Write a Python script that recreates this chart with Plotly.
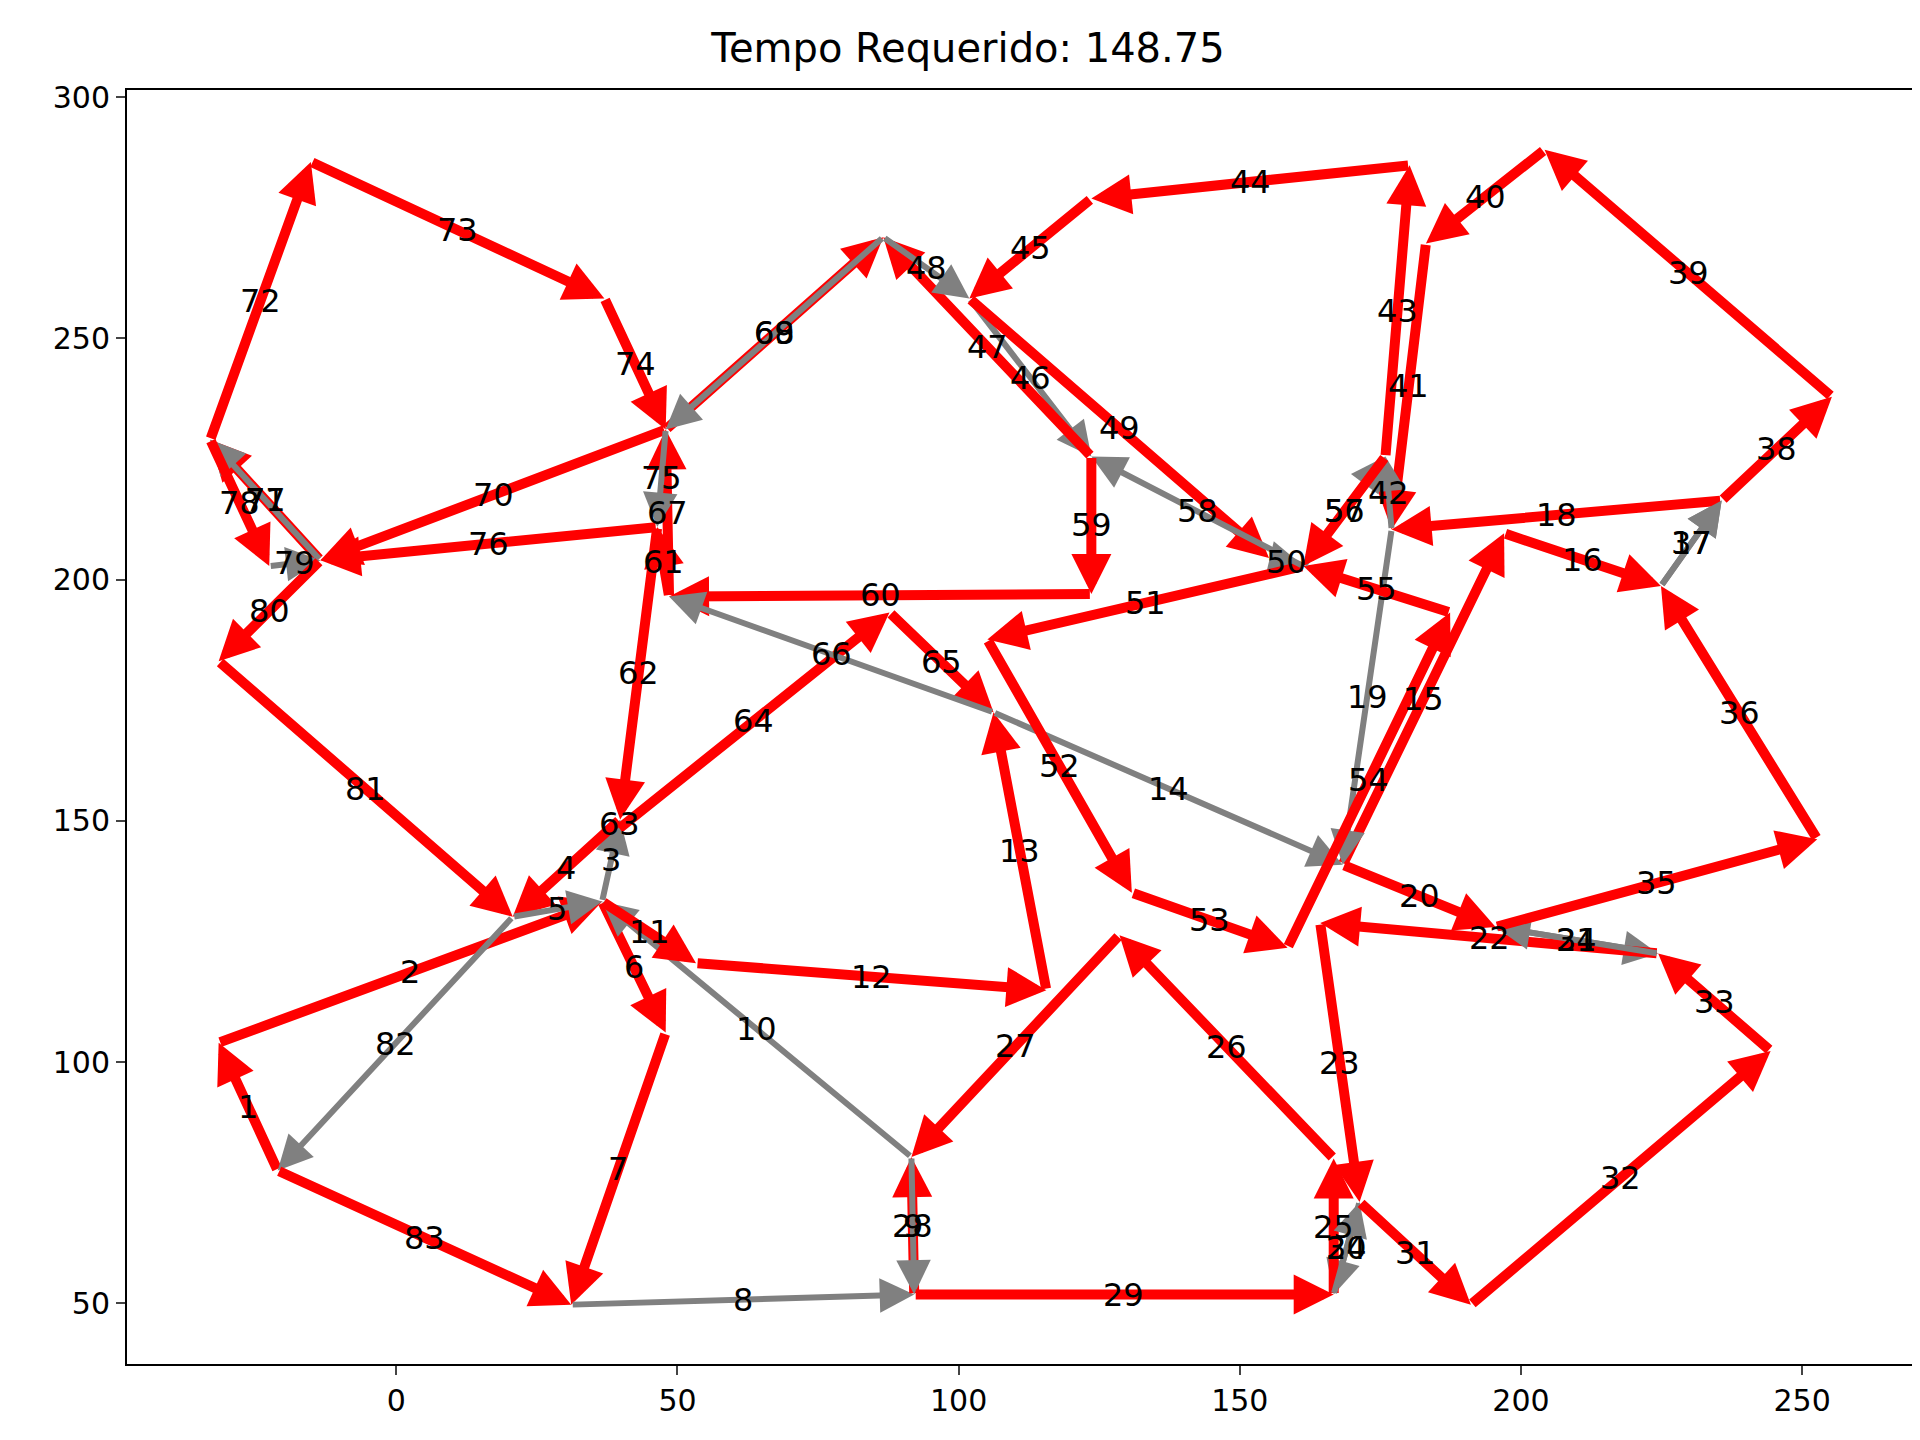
import plotly.graph_objects as go

# node coordinates
nodes = {
    "A": (-21.1, 77.5), "B": (-31.6, 104.0), "C": (36.6, 133.3), "D": (39.8, 150.3),
    "D2": (39.4, 148.2), "E": (20.7, 130.1), "G": (47.9, 106.1), "H": (31.1, 49.7),
    "I": (92.1, 51.8), "J": (91.6, 80.3), "L": (53.3, 120.5), "M": (115.6, 114.9),
    "N": (106.2, 172.5), "P": (168.3, 140.9), "Q": (197.0, 209.6), "R": (224.9, 198.7),
    "S": (235.7, 216.4), "T": (177.0, 210.4), "U": (195.5, 128.0), "V": (224.4, 122.5),
    "W": (164.3, 128.8), "X": (171.3, 71.0), "Z": (166.7, 51.8), "Y": (166.7, 80.0),
    "O": (128.6, 126.3), "AA": (191.1, 49.7), "AB": (244.4, 102.3), "AC": (252.7, 146.2),
    "AD": (255.3, 237.9), "AE": (204.2, 289.1), "AF": (183.1, 269.7), "AH": (175.9, 225.5),
    "AI": (180.2, 285.9), "AJ": (123.6, 279.0), "AK": (101.9, 258.3), "AL": (123.6, 225.5),
    "AM": (86.6, 271.0), "BN": (155.2, 204.5), "BO": (161.3, 202.8), "BP": (105.1, 187.6),
    "BQ": (130.8, 135.1), "BR": (158.5, 123.7), "BS": (187.4, 193.2), "BT": (123.6, 197.0),
    "BU": (48.5, 196.5), "BV": (46.4, 210.9), "BW": (47.9, 231.1), "BX": (87.7, 193.2),
    "BZ": (-13.5, 204.0), "CA": (-33.1, 229.0), "CB": (-15.2, 286.6), "CC": (37.0, 258.3),
    "CD": (-22.6, 202.8), "CE": (-31.6, 183.1),
}

# visiting order and colour of each step
route = ["A", "B", "C", "D", "E", "C", "G", "H", "I", "J", "C", "L", "M", "N", "P", "Q",
         "R", "S", "T", "P", "U", "V", "W", "X", "Z", "Y", "O", "J", "I", "Z", "X", "AA",
         "AB", "V", "U", "AC", "R", "S", "AD", "AE", "AF", "T", "AH", "AI", "AJ", "AK",
         "AL", "AM", "AK", "BN", "BO", "BP", "BQ", "BR", "BS", "BO", "AH", "BO", "AL",
         "BT", "BU", "BV", "D", "D2", "BX", "N", "BU", "BW", "AM", "BW", "BZ", "CA", "CB",
         "CC", "BW", "BV", "BZ", "CA", "CD", "BZ", "CE", "E", "A", "H"]
gray_steps = [3, 5, 8, 10, 14, 17, 19, 21, 24, 28, 30, 34, 37, 42, 46, 48, 50, 56, 58,
              66, 69, 75, 77, 79, 82]

fig = go.Figure()
arrows = []
labels = []
for i in range(len(route) - 1):
    step = i + 1
    x0, y0 = nodes[route[i]]
    x1, y1 = nodes[route[i + 1]]
    gray = step in gray_steps
    arrows.append(dict(
        x=x1, y=y1, ax=x0, ay=y0, xref="x", yref="y", axref="x", ayref="y",
        text="", showarrow=True, arrowhead=2,
        arrowwidth=6 if gray else 10,
        arrowsize=1.15 if gray else 0.8,
        arrowcolor="grey" if gray else "red",
    ))
    labels.append(dict(
        x=(x0 + x1) / 2, y=(y0 + y1) / 2, xref="x", yref="y", text=str(step),
        showarrow=False, font=dict(family="DejaVu Sans", size=32, color="black"),
    ))

# invisible trace so the axes exist
fig.add_trace(go.Scatter(x=[0], y=[100], mode="markers", marker=dict(opacity=0),
                         showlegend=False, hoverinfo="skip"))

fig.update_layout(
    annotations=arrows + labels,
    width=1920, height=1440,
    margin=dict(l=119, r=14, t=82, b=84),
    plot_bgcolor="white", paper_bgcolor="white",
    font=dict(family="DejaVu Sans", size=30, color="black"),
    title=dict(text="Tempo Requerido: 148.75", x=0.5, xanchor="center",
               y=0.982, font=dict(size=40)),
    showlegend=False,
)
fig.update_xaxes(range=[-47.9, 269.9], tickvals=[0, 50, 100, 150, 200, 250],
                 showgrid=False, zeroline=False, showline=True, mirror=True,
                 linecolor="black", linewidth=2, ticks="outside", ticklen=9, tickwidth=2)
fig.update_yaxes(range=[37.4, 301.5], tickvals=[50, 100, 150, 200, 250, 300],
                 showgrid=False, zeroline=False, showline=True, mirror=True,
                 linecolor="black", linewidth=2, ticks="outside", ticklen=9, tickwidth=2)

fig.write_html("out.html")
